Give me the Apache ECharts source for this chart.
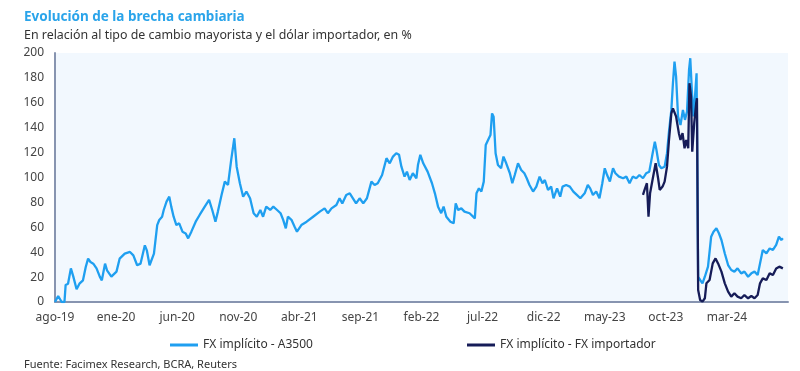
<!DOCTYPE html>
<html>
<head>
<meta charset="utf-8">
<script src="https://cdn.jsdelivr.net/npm/echarts@6/dist/echarts.min.js"></script>
<style>html,body{margin:0;padding:0;background:#fff}#c{width:800px;height:371px}</style>
</head>
<body>
<div id="c"></div>
<script>
// ---- DATA ----
const xTickLabels = ['ago-19','ene-20','jun-20','nov-20','abr-21','sep-21','feb-22','jul-22','dic-22','may-23','oct-23','mar-24'];

const a3500Dates = [
'2019-08-01','2019-08-09','2019-08-18','2019-08-25','2019-08-28','2019-09-03','2019-09-10','2019-09-16','2019-09-24','2019-10-01',
'2019-10-10','2019-10-17','2019-10-23','2019-10-29','2019-11-05','2019-11-13','2019-11-21','2019-11-26','2019-12-04','2019-12-09',
'2019-12-20','2020-01-02','2020-01-10','2020-01-23','2020-02-05','2020-02-13','2020-02-22','2020-03-01','2020-03-12','2020-03-17',
'2020-03-24','2020-04-04','2020-04-12','2020-04-17','2020-04-24','2020-04-28','2020-05-05','2020-05-12','2020-05-17','2020-05-23',
'2020-05-30','2020-06-06','2020-06-14','2020-06-22','2020-06-28','2020-07-06','2020-07-17','2020-07-27','2020-08-09','2020-08-20',
'2020-08-28','2020-09-05','2020-09-11','2020-09-20','2020-09-28','2020-10-06','2020-10-14','2020-10-22','2020-10-28','2020-11-05',
'2020-11-13','2020-11-21','2020-11-30','2020-12-09','2020-12-17','2020-12-26','2021-01-02','2021-01-10','2021-01-20','2021-01-28',
'2021-02-06','2021-02-14','2021-02-20','2021-02-26','2021-03-03','2021-03-12','2021-03-20','2021-03-26','2021-04-06','2021-04-19',
'2021-05-05','2021-05-22','2021-06-03','2021-06-11','2021-06-20','2021-07-02','2021-07-10','2021-07-17','2021-07-27','2021-08-05',
'2021-08-13','2021-08-21','2021-08-30','2021-09-08','2021-09-17','2021-09-28','2021-10-06','2021-10-14','2021-10-25','2021-11-05',
'2021-11-13','2021-11-21','2021-11-29','2021-12-06','2021-12-12','2021-12-20','2021-12-26','2022-01-02','2022-01-10','2022-01-19',
'2022-01-23','2022-01-29','2022-02-05','2022-02-15','2022-02-25','2022-03-04','2022-03-12','2022-03-20','2022-03-26','2022-04-02',
'2022-04-12','2022-04-20','2022-04-25','2022-05-01','2022-05-09','2022-05-17','2022-05-30','2022-06-12','2022-06-16','2022-06-22',
'2022-06-28','2022-07-04','2022-07-09','2022-07-17','2022-07-21','2022-07-25','2022-07-29','2022-08-03','2022-08-09','2022-08-17',
'2022-08-23','2022-08-30','2022-09-08','2022-09-14','2022-09-20','2022-09-28','2022-10-06','2022-10-14','2022-10-20','2022-10-27',
'2022-11-05','2022-11-13','2022-11-21','2022-11-28','2022-12-04','2022-12-12','2022-12-20','2022-12-26','2023-01-04','2023-01-12',
'2023-01-18','2023-01-27','2023-02-05','2023-02-13','2023-02-21','2023-03-01','2023-03-12','2023-03-20','2023-03-26','2023-04-02',
'2023-04-10','2023-04-18','2023-04-25','2023-05-01','2023-05-07','2023-05-14','2023-05-22','2023-05-28','2023-06-06','2023-06-16',
'2023-06-24','2023-07-02','2023-07-10','2023-07-19','2023-07-27','2023-08-05','2023-08-13','2023-08-21','2023-08-28','2023-09-04',
'2023-09-08','2023-09-14','2023-09-20','2023-09-28','2023-10-04','2023-10-09','2023-10-15','2023-10-19','2023-10-23','2023-10-27',
'2023-11-01','2023-11-07','2023-11-13','2023-11-18','2023-11-23','2023-11-28','2023-12-01','2023-12-05','2023-12-09','2023-12-13',
'2023-12-17','2023-12-21','2023-12-26','2024-01-01','2024-01-07','2024-01-15','2024-01-23','2024-01-29','2024-02-05','2024-02-11',
'2024-02-17','2024-02-25','2024-03-04','2024-03-12','2024-03-20','2024-03-28','2024-04-06','2024-04-14','2024-04-23','2024-05-01',
'2024-05-09','2024-05-17','2024-05-23','2024-05-30','2024-06-08','2024-06-16','2024-06-24','2024-07-02','2024-07-09','2024-07-15',
'2024-07-19'
];
const a3500Values = [
0,4.8,0,0,13.7,14.7,27,20.4,10.2,14.7,
17.4,28.1,34.8,32.1,30.8,27,20.4,17.4,30.8,25.4,
20.4,24.4,34.8,38.8,40.2,37.5,29.5,30.8,45.5,41.5,
29.5,38.8,61.8,65.9,68.5,73.9,80.6,84.6,76.6,68.5,
61.8,63.2,56.5,55.1,51.1,56.5,64.5,69.9,76.6,82,
73.9,64.5,72.6,86,96.7,94,114,131.5,108.7,95.4,
84.6,88.7,83.3,71.3,68.5,73.9,68.5,76.6,73.9,76.6,
73.9,71.3,65.9,59.2,68.5,66,60.5,56.5,61.8,64.5,
68.5,72.6,75.2,71.3,75.2,77.9,83.3,79.2,86,87.3,
83.3,79.2,83.3,79.2,83.3,96.7,94,95.4,102,115.5,
111.4,116.8,119.5,118.2,108.7,100.7,104.7,98,103.4,99.4,
110,118.2,111.4,104.7,95.4,87.3,76.6,71.3,76.6,68.5,
64.5,63.2,79.2,73.9,75.2,72.6,71.3,67.2,87.3,91.3,
88.7,96.7,126.1,131.5,134.1,151.5,148.8,119.5,110,107.4,
116.8,111.4,103.4,95.4,102,111.4,106,103.4,99.4,94,
88.7,92.7,100.7,95.4,98,90,92.7,83.3,91.3,84.6,
92.7,94,92.7,88.7,86,83.3,87.3,94,91.3,86,
88.7,83.3,95.4,107.4,102,96.7,107.4,103.4,100.7,99.4,
100.7,95.4,100.7,99.4,102,99.4,103.4,104.7,116.8,128.8,
122.1,110,107.4,108.7,119.5,136.9,154.3,175.7,193.1,181,
149,142.2,154.3,146.3,153,186.4,195.8,170.3,149,165,
183.7,20.3,17.7,15,20.3,28.4,52.5,56.5,59.2,55.2,
49.8,39,29.7,25.7,24.4,27,23,24.4,20.3,23,
24.4,21.7,31,41.8,39,43,41.8,45.8,52.5,49.8,
51.2
];

const impDates = [
'2023-08-05','2023-08-09','2023-08-15','2023-08-19','2023-08-23','2023-08-30','2023-09-06','2023-09-12','2023-09-16','2023-09-23',
'2023-09-28','2023-10-04','2023-10-09','2023-10-15','2023-10-19','2023-10-23','2023-10-27','2023-11-03','2023-11-07','2023-11-12',
'2023-11-17','2023-11-21','2023-11-26','2023-11-29','2023-12-03','2023-12-06','2023-12-11','2023-12-16','2023-12-18','2023-12-21',
'2023-12-26','2024-01-01','2024-01-07','2024-01-11','2024-01-19','2024-01-27','2024-02-03','2024-02-09','2024-02-17','2024-02-25',
'2024-03-04','2024-03-12','2024-03-20','2024-03-28','2024-04-06','2024-04-14','2024-04-23','2024-05-01','2024-05-09','2024-05-17',
'2024-05-23','2024-05-30','2024-06-08','2024-06-16','2024-06-24','2024-07-02','2024-07-10','2024-07-19'
];
const impValues = [
86,90,95.4,68.5,87.3,99.4,111.4,99.4,90,92.7,
96.7,108.7,130.1,151.5,155.5,154.3,149,135.6,130.1,135.6,
123.5,130.1,123.5,175.7,165,120.8,143.6,159.6,163.7,9.6,
1.6,0.3,3,15,17.7,31,35,31,24.4,15,
8.3,4.3,7,4.3,3,5.6,3,4.8,3,5.6,
15,19,17.7,23,21.7,27,28.4,27
];

// month index since Aug-2019 (value-axis unit)
function monthIndex(s){
  const p = s.split('-').map(Number);
  const dim = new Date(p[0], p[1], 0).getDate();
  return (p[0]-2019)*12 + (p[1]-8) + (p[2]-1)/dim;
}
const pairs = (ds, vs) => ds.map((d,i)=>[monthIndex(d), vs[i]]);

const LIGHT = '#1f9ff0';
const DARK = '#161c58';
const FONT = 'Noto Sans';

const chart = echarts.init(document.getElementById('c'), null, {renderer:'canvas'});
chart.setOption({
  animation:false,
  textStyle:{fontFamily:FONT},
  title:[
    {text:'Evolución de la brecha cambiaria', left:19, top:5,
     textStyle:{fontFamily:FONT, fontSize:13.5, fontWeight:'bold', color:'#2aa4ea'}},
    {text:'En relación al tipo de cambio mayorista y el dólar importador, en %', left:19, top:24,
     textStyle:{fontFamily:FONT, fontSize:12.4, fontWeight:'normal', color:'#333'}},
    {text:'Fuente: Facimex Research, BCRA, Reuters', left:19, top:354,
     textStyle:{fontFamily:FONT, fontSize:11, fontWeight:'normal', color:'#333'}}
  ],
  legend:[
    {data:['FX implícito - A3500'], left:165, top:334, icon:'rect', itemWidth:28, itemHeight:3, itemGap:4,
     textStyle:{fontFamily:FONT, fontSize:12, color:'#333'}},
    {data:['FX implícito - FX importador'], left:462, top:334, icon:'rect', itemWidth:28, itemHeight:3, itemGap:4,
     textStyle:{fontFamily:FONT, fontSize:12, color:'#333'}}
  ],
  grid:{left:55, right:12, top:53, bottom:69, show:true, backgroundColor:'#f2f8fe', borderWidth:0},
  xAxis:{
    type:'value', min:0, max:60, interval:5,
    axisLine:{show:true, onZero:false, lineStyle:{color:'#8794b0', width:2}},
    axisTick:{show:false},
    splitLine:{show:false},
    axisLabel:{fontFamily:FONT, fontSize:12, color:'#444', margin:10,
      formatter:v => (v%5===0 && xTickLabels[v/5]) ? xTickLabels[v/5] : ''}
  },
  yAxis:{
    type:'value', min:0, max:200, interval:20,
    axisLine:{show:true, lineStyle:{color:'#8794b0', width:2}},
    axisTick:{show:false},
    splitLine:{show:false},
    axisLabel:{fontFamily:FONT, fontSize:12, color:'#444', margin:11}
  },
  series:[
    {name:'FX implícito - A3500', type:'line', data:pairs(a3500Dates,a3500Values),
     showSymbol:false, symbol:'none', lineStyle:{color:LIGHT, width:2.3}, itemStyle:{color:LIGHT}},
    {name:'FX implícito - FX importador', type:'line', data:pairs(impDates,impValues),
     showSymbol:false, symbol:'none', lineStyle:{color:DARK, width:2.3}, itemStyle:{color:DARK}}
  ]
});
</script>
</body>
</html>
